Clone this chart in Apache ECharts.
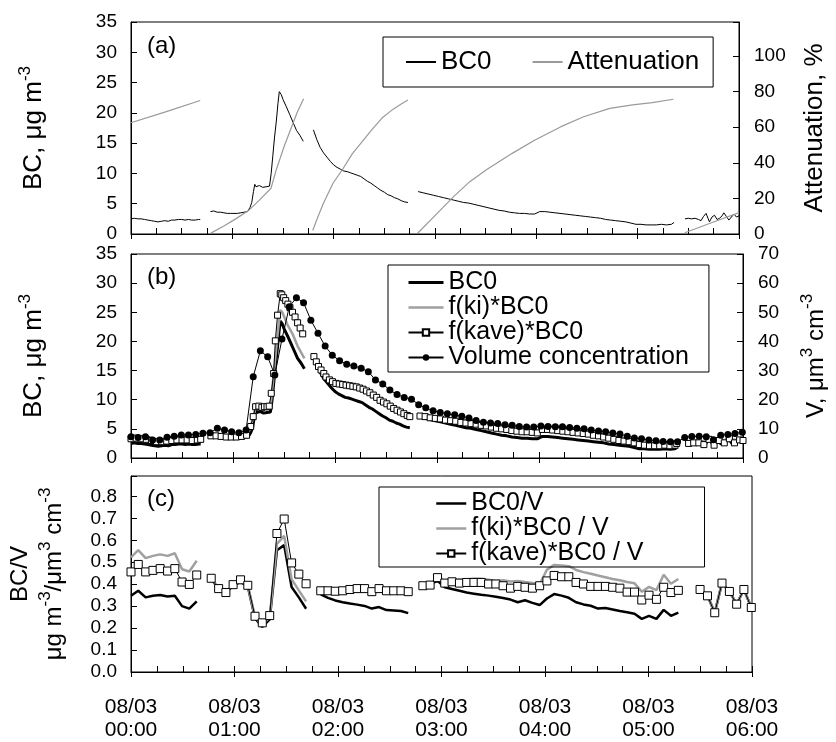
<!DOCTYPE html>
<html><head><meta charset="utf-8">
<script src="https://cdn.jsdelivr.net/npm/echarts@6/dist/echarts.min.js"></script>
<style>html,body{margin:0;padding:0;background:#fff}#c{width:836px;height:742px}</style>
</head><body><div id="c"></div>
<script>
const FONT = '"Liberation Sans", Arial, Helvetica, sans-serif';
const dateLabel = '08/03';
const hourLabels = ['00:00','01:00','02:00','03:00','04:00','05:00','06:00'];
const panelLabels = ['(a)','(b)','(c)'];

// ---- Panel (a): BC0 [minutes after 00:00, ug/m3]
const bc0 = [[0,2.5],[2,2.6],[4,2.5],[6,2.5],[8,2.4],[10,2.3],[12,2.2],[14,2.1],[16,2.0],[18,2.1],[20,2.2],[22,2.1],[24,2.3],[26,2.3],[28,2.4],[30,2.4],[32,2.3],[34,2.4],[36,2.3],[38,2.3],[40,2.4],[41,2.4],[44,null],
[47,3.7],[49,3.8],[51,3.6],[53,3.6],[55,3.5],[57,3.4],[59,3.4],[61,3.4],[63,3.4],[65,3.5],[67,3.6],[69,3.7],[70.5,4.4],[71.5,5.2],[72.5,7.0],[73.3,8.2],[74,7.8],[75,7.7],[76,8.0],[77,7.8],[78,7.7],[79,7.9],[80,7.8],[81,8.0],[82,7.9],[83,10.0],[84,13.0],[85,16.0],[86,18.5],[87,21.5],[87.8,23.5],[89,23.0],[90,22.2],[92,21.0],[94,19.7],[96,18.4],[98,17.1],[100,16.3],[102,15.3],[105,null],
[108,17.2],[110,15.6],[112,14.3],[114,13.4],[116,12.7],[118,12.0],[120,11.4],[122,11.0],[124,10.7],[126,10.4],[128,10.3],[130,10.1],[132,9.9],[134,9.7],[136,9.5],[138,9.1],[140,8.7],[142,8.4],[144,8.0],[146,7.6],[148,7.2],[150,6.9],[152,6.5],[154,6.3],[156,6.0],[158,5.8],[160,5.5],[162,5.3],[164,5.2],[166,null],
[170,7.0],[173,6.8],[176,6.6],[179,6.4],[182,6.2],[185,6.0],[188,5.8],[191,5.6],[194,5.4],[197,5.2],[200,5.1],[203,4.9],[206,4.7],[209,4.5],[212,4.3],[215,4.1],[218,3.9],[221,3.8],[224,3.6],[227,3.5],[230,3.4],[233,3.4],[236,3.3],[239,3.3],[242,3.7],[245,3.7],[248,3.6],[251,3.5],[254,3.4],[257,3.3],[260,3.2],[263,3.1],[266,3.0],[269,2.9],[272,2.8],[275,2.7],[278,2.6],[281,2.4],[284,2.3],[287,2.2],[290,2.1],[293,2.0],[296,1.8],[299,1.6],[302,1.6],[305,1.5],[308,1.5],[311,1.5],[314,1.6],[317,1.5],[320,1.6],[321.5,1.9],[325,null],
[328,2.5],[330,2.6],[332,2.5],[334,2.6],[336,2.4],[337.5,2.2],[339,2.9],[340.5,3.4],[342.5,2.0],[344,2.8],[345.5,3.1],[347,2.4],[348.5,2.6],[350,3.0],[351,3.5],[352.5,2.9],[354,2.3],[355.5,2.8],[357,3.3],[358.5,2.8],[360,3.0]];

// ---- Panel (a): Attenuation [minutes, %]
const attenuation = [[0,62.5],[20,68.5],[41,75],[44,null],
[47.3,0.5],[55,4.5],[62,8.5],[69.4,13],[76,19],[82.9,25.7],[86,36],[90.6,49],[95,60],[98.5,68.5],[102.2,76],[105,null],
[107.6,2],[110,8],[113.8,17],[119.6,28.5],[125.4,36.5],[131,45],[137,52],[143,59],[148.5,65],[155,70],[160,73],[164,75.3],[166,null],
[169.7,0.4],[181.3,11.6],[191,21],[200.6,29.4],[210.2,36],[225.7,45.3],[239.2,52.8],[254.6,60.3],[268,65.9],[283.5,70.6],[297,72.5],[308.6,73.8],[321.1,75.7],[325,null],
[327.9,0.7],[345.3,6.9],[360,12]];

// ---- Panel (b): f(ki)*BC0 and f(kave)*BC0 [minutes, ug/m3]
const kiBC0 = [[0,3.8],[4,3.8],[8,3.7],[12,3.5],[16,3.1],[20,3.3],[24,3.4],[28,3.6],[32,3.5],[36,3.5],[41,3.7],[44,null],
[47,3.8],[55,3.7],[62,3.6],[68,3.9],[70,5.0],[72,7.1],[73.3,8.6],[76,8.6],[80,8.7],[82,8.8],[83,11.5],[84,14.5],[85,17.5],[86,20.5],[87.8,25.4],[89,25.0],[92,22.9],[95,21.3],[98,19.2],[102,17.1],[105,null],
[108,17.4],[112,14.8],[116,13.6],[120,12.9],[125,12.6],[130,12.4],[135,12.0],[140,11.3],[145,10.3],[150,9.4],[155,8.5],[160,7.7],[164,7.2],[166,null],
[170,7.2],[180,6.9],[190,6.5],[200,6.3],[210,5.8],[220,5.4],[230,5.1],[239,4.7],[242,5.5],[250,5.5],[260,5.0],[270,4.5],[280,3.9],[290,3.4],[299,2.6],[305,2.5],[313,2.5],[321,2.8],[325,null],
[328,2.5],[334,2.6],[340,3.3],[346,3.0],[352,3.2],[360,3.0]];

const kaveBC0 = [[0,3.3],[3,3.4],[6,3.3],[9,3.2],[12,3.0],[15,2.8],[18,2.8],[21,2.9],[24,3.0],[27,3.1],[30,3.1],[33,3.1],[36,3.0],[39,3.1],[41,3.2],[44,null],
[47,3.8],[50,3.8],[53,3.7],[56,3.6],[59,3.6],[62,3.6],[65,3.7],[68,3.9],[70.4,5.4],[71.9,7.1],[73.3,8.8],[75.2,8.9],[77,8.7],[78.5,8.8],[80,8.8],[81.3,8.9],[82.5,11.1],[83.9,14.5],[84.9,20.1],[86.2,24.5],[87.8,28.2],[88.7,28.0],[89.8,27.5],[91,27.0],[92.3,26.4],[93.5,25.8],[95,25.0],[96.5,24.2],[98,23.2],[99.5,22.3],[101,21.3],[105,null],
[107.6,17.4],[109,16.5],[110.3,15.7],[111.8,15.1],[113.4,14.5],[114.7,13.9],[116.7,13.4],[118.5,13.1],[120.5,12.8],[122.5,12.7],[124.5,12.6],[126.5,12.5],[128.5,12.4],[130.5,12.3],[132.5,12.2],[134.5,12.0],[136.5,11.8],[138.5,11.5],[140.5,11.2],[142.5,10.8],[144.5,10.4],[146.5,9.9],[148.5,9.6],[150.5,9.3],[152.5,8.9],[154.5,8.5],[156.5,8.2],[158.5,7.9],[160.5,7.6],[162.5,7.3],[164,7.1],[166,null],
[170,7.2],[173,7.1],[176,6.9],[179,6.8],[182,6.7],[185,6.5],[188,6.4],[191,6.3],[194,6.1],[197,6.0],[200,5.9],[203,5.8],[206,5.6],[209,5.5],[212,5.3],[215,5.1],[218,5.0],[221,4.9],[224,4.7],[227,4.6],[230,4.5],[233,4.5],[236,4.4],[239,4.3],[242,4.9],[245,4.9],[248,4.8],[251,4.7],[254,4.6],[257,4.5],[260,4.4],[263,4.3],[266,4.2],[269,4.1],[272,3.9],[275,3.8],[278,3.6],[281,3.4],[284,3.2],[287,3.0],[290,2.9],[293,2.8],[296,2.6],[299,2.3],[302,2.2],[305,2.1],[308,2.1],[311,2.1],[314,2.2],[317,2.1],[320,2.2],[321,2.5],[325,null],
[328,2.5],[331,2.6],[334,2.6],[337,2.3],[340,3.2],[343,2.2],[346,3.0],[349,2.6],[352,3.3],[355,2.6],[358,3.1],[360,3.0]];

// ---- SMPS sample times [minutes] shared by panel (b) volume and panel (c) ratios
const smpsTimes = [0,4.2,8.5,12.7,16.9,21.2,25.4,29.6,33.8,38.1,42.3,46.5,50.8,55,59.2,63.5,67.7,71.9,76.1,80.4,84.6,88.8,93.1,97.3,101.5,105.8,110,114.2,118.4,122.7,126.9,131.1,135.4,139.6,143.8,148.1,152.3,156.5,160.7,165,169.2,173.4,177.7,181.9,186.1,190.4,194.6,198.8,203,207.3,211.5,215.7,220,224.2,228.4,232.7,236.9,241.1,245.3,249.6,253.8,258,262.3,266.5,270.7,275,279.2,283.4,287.6,291.9,296.1,300.3,304.6,308.8,313,317.3,321.5,325.7,329.9,334.2,338.4,342.6,346.9,351.1,355.3,359.6];

// Volume concentration [um3/cm3]
const volume = [7.3,7.0,7.3,6.2,6.2,7.1,7.5,7.9,7.9,8.1,8.5,8.7,10.2,9.6,9.0,8.7,9.6,27.9,36.8,34.7,28.5,40.8,51.9,55.0,53.3,47.3,42.8,38.4,35.3,33.4,32.2,31.6,30.8,29.6,26.8,25.4,23.3,21.8,20.8,20.2,18.3,17.2,16.2,15.6,15.2,14.8,14.3,13.7,12.9,12.3,12.0,11.8,11.4,11.2,10.8,10.6,10.6,11.0,10.8,10.7,10.7,10.5,10.2,10.0,9.6,9.3,9.0,8.6,8.2,7.5,6.9,6.6,6.2,5.9,5.7,5.6,5.6,7.0,7.4,7.5,7.3,6.3,7.8,8.1,8.4,8.8];

// ---- Panel (c) ratios
const ratioBC0 = [0.347,0.37,0.34,0.347,0.351,0.344,0.347,0.3,0.289,0.322,null,
0.425,0.378,0.36,0.395,0.41,0.39,0.245,0.205,0.24,0.555,0.578,0.387,0.34,0.288,null,
0.354,0.338,0.326,0.318,0.312,0.307,0.301,0.289,0.296,0.282,0.28,0.278,0.268,null,
0.39,0.40,0.415,0.386,0.378,0.37,0.362,0.357,0.352,0.348,0.343,0.337,0.33,0.318,0.327,0.315,0.305,0.335,0.355,0.348,0.338,0.318,0.308,0.302,0.289,0.292,0.285,0.278,0.272,0.265,0.242,0.256,0.242,0.283,0.256,0.271,null,null,
0.376,0.347,0.27,0.405,0.367,0.309,0.376,0.294];
const ratioKi = [0.522,0.555,0.519,0.529,0.536,0.529,0.541,0.468,0.458,0.507,null,
0.428,0.382,0.362,0.4,0.418,0.395,0.25,0.215,0.25,0.584,0.62,0.423,0.372,0.322,null,
0.37,0.37,0.368,0.37,0.376,0.38,0.38,0.37,0.38,0.37,0.37,0.37,0.366,null,
0.395,0.398,0.43,0.415,0.418,0.42,0.422,0.425,0.425,0.42,0.415,0.418,0.412,0.415,0.41,0.405,0.40,0.466,0.488,0.485,0.482,0.465,0.455,0.448,0.44,0.432,0.424,0.418,0.41,0.404,0.366,0.388,0.373,0.443,0.402,0.424,null,null,
0.376,0.347,0.27,0.405,0.367,0.309,0.376,0.294];
const ratioKave = [0.456,0.49,0.456,0.463,0.471,0.46,0.471,0.41,0.399,0.442,null,
0.427,0.38,0.362,0.398,0.42,0.395,0.254,0.224,0.257,0.631,0.697,0.497,0.446,0.402,null,
0.37,0.37,0.368,0.37,0.376,0.38,0.38,0.366,0.38,0.37,0.37,0.37,0.366,null,
0.393,0.396,0.43,0.405,0.411,0.405,0.408,0.408,0.408,0.401,0.401,0.393,0.382,0.39,0.386,0.382,0.393,0.415,0.44,0.434,0.434,0.408,0.401,0.39,0.39,0.39,0.386,0.382,0.364,0.364,0.328,0.35,0.331,0.386,0.362,0.372,null,null,
0.376,0.347,0.27,0.405,0.367,0.309,0.376,0.294];

const pair = (vals) => smpsTimes.map((t, i) => [t, vals[i]]);

const grids = [
  {left: 131, right: 81, top: 22, height: 212},
  {left: 131, right: 82, top: 254, height: 204},
  {left: 129, right: 84, top: 476, height: 204}
].map(g => Object.assign(g, {show: true, borderColor: '#000', borderWidth: 1, backgroundColor: 'transparent'}));

function xAxes(gi, withLabels) {
  return [{
    type: 'value', gridIndex: gi, min: 0, max: 360, interval: 60, position: 'bottom',
    axisLine: {show: true, onZero: false, lineStyle: {color: '#000', width: 1}},
    axisTick: {show: true, inside: true, length: 6, lineStyle: {color: '#000'}},
    minorTick: {show: true, splitNumber: 4, length: 6, lineStyle: {color: '#000'}},
    axisLabel: {show: false}, splitLine: {show: false}
  }, {
    type: 'value', gridIndex: gi, min: 0, max: 360, interval: 60, position: 'bottom',
    axisLine: {show: false, onZero: false},
    axisTick: {show: true, inside: false, length: 5, lineStyle: {color: '#000'}},
    axisLabel: {show: withLabels, margin: 23, color: '#000', fontSize: 21, lineHeight: 23.5, fontFamily: FONT,
      formatter: v => dateLabel + '\n' + hourLabels[Math.round(v / 60)]},
    splitLine: {show: false}
  }];
}

const sup = {fontSize: 17, fontFamily: FONT, color: '#000', verticalAlign: 'top', lineHeight: 16};
function yAxis(gi, pos, min, max, interval, fmt, name, nameGap, nameStyle) {
  return {
    type: 'value', gridIndex: gi, position: pos, min: min, max: max, interval: interval,
    axisLine: {show: true, onZero: false, lineStyle: {color: '#000', width: 1}},
    axisTick: {show: true, inside: true, length: 6, lineStyle: {color: '#000'}},
    axisLabel: {color: '#000', fontSize: 19, fontFamily: FONT, margin: pos === 'left' ? 14 : 15, formatter: fmt},
    splitLine: {show: false},
    name: name, nameLocation: 'middle', nameRotate: 90, nameGap: nameGap,
    nameTextStyle: nameStyle
  };
}
const titleStyle = (fs, lh) => ({fontFamily: FONT, color: '#000', fontSize: fs, rich: {
  t: {fontSize: fs, fontFamily: FONT, color: '#000', lineHeight: lh},
  s: sup
}});
const noSym = {opacity: 0};

const option = {
  animation: false,
  backgroundColor: '#fff',
  textStyle: {fontFamily: FONT},
  grid: grids,
  xAxis: [].concat(xAxes(0, false), xAxes(1, false), xAxes(2, true)),
  yAxis: [
    yAxis(0, 'left', 0, 35, 5, v => String(v), '{t|BC, μg m}{s|-3}', 80, titleStyle(26, 34)),
    yAxis(0, 'right', 0, 119.1, 20, v => (v % 20 === 0 && v <= 100) ? String(v) : '', 'Attenuation, %', 63, {fontFamily: FONT, color: '#000', fontSize: 26}),
    yAxis(1, 'left', 0, 35, 5, v => String(v), '{t|BC, μg m}{s|-3}', 80, titleStyle(26, 34)),
    yAxis(1, 'right', 0, 70, 10, v => String(v), '{t|V, μm}{s|3}{t| cm}{s|-3}', 56, titleStyle(24, 34)),
    yAxis(2, 'left', 0, 0.893, 0.1, v => v > 0.85 ? '' : v.toFixed(1), '{t|BC/V}\n{t|μg m}{s|-3}{t|/μm}{s|3}{t| cm}{s|-3}', 60, titleStyle(24, 34))
  ],
  legend: [
    {data: [{name: 'BC0#a', itemStyle: noSym}, {name: 'Attenuation', itemStyle: noSym}], left: 383, top: 37, orient: 'horizontal', itemWidth: 30, itemHeight: 10, itemGap: 40,
     padding: [12, 14, 12, 22], borderColor: '#000', borderWidth: 1, selectedMode: false,
     formatter: n => n.split('#')[0], textStyle: {fontSize: 26, fontFamily: FONT, color: '#000'}},
    {data: [{name: 'BC0#b', itemStyle: noSym, lineStyle: {width: 3}}, {name: 'f(ki)*BC0', itemStyle: noSym, lineStyle: {width: 2.5}}, 'f(kave)*BC0', 'Volume concentration'],
     left: 388, top: 265, orient: 'vertical',
     itemWidth: 35, itemHeight: 8, itemGap: 0, padding: [5, 20, 2, 19], borderColor: '#000', borderWidth: 1, selectedMode: false,
     formatter: n => n.split('#')[0], textStyle: {fontSize: 25, lineHeight: 24.5, fontFamily: FONT, color: '#000'}},
    {data: [{name: 'BC0/V', itemStyle: noSym, lineStyle: {width: 2.5}}, {name: 'f(ki)*BC0 / V', itemStyle: noSym, lineStyle: {width: 2.5}}, 'f(kave)*BC0 / V'],
     left: 379, top: 487, orient: 'vertical',
     itemWidth: 30, itemHeight: 8, itemGap: 0, padding: [4, 61, 1, 56], borderColor: '#000', borderWidth: 1, selectedMode: false,
     textStyle: {fontSize: 25, lineHeight: 24, fontFamily: FONT, color: '#000'}}
  ],
  graphic: panelLabels.map((t, i) => ({type: 'text', left: 147, top: [34, 265, 487][i],
    style: {text: t, fontSize: 24, fontFamily: FONT, fill: '#000'}})),
  series: [
    {name: 'BC0#a', type: 'line', xAxisIndex: 0, yAxisIndex: 0, data: bc0, symbol: 'none', color: '#000',
     lineStyle: {color: '#000', width: 1}},
    {name: 'Attenuation', type: 'line', xAxisIndex: 0, yAxisIndex: 1, data: attenuation, symbol: 'none', color: '#9a9a9a',
     lineStyle: {color: '#9a9a9a', width: 1.2}},
    {name: 'BC0#b', type: 'line', xAxisIndex: 2, yAxisIndex: 2, data: bc0, symbol: 'none', color: '#000',
     lineStyle: {color: '#000', width: 3}},
    {name: 'f(ki)*BC0', type: 'line', xAxisIndex: 2, yAxisIndex: 2, data: kiBC0, symbol: 'none', color: '#a0a0a0',
     lineStyle: {color: '#a0a0a0', width: 2.5}},
    {name: 'f(kave)*BC0', type: 'line', xAxisIndex: 2, yAxisIndex: 2, data: kaveBC0, symbol: 'rect', symbolSize: 6, color: '#000',
     itemStyle: {color: '#fff', borderColor: '#000', borderWidth: 1}, lineStyle: {color: '#000', width: 1}},
    {name: 'Volume concentration', type: 'line', xAxisIndex: 2, yAxisIndex: 3, data: pair(volume), symbol: 'circle', symbolSize: 7, color: '#000',
     itemStyle: {color: '#000'}, lineStyle: {color: '#000', width: 1}},
    {name: 'BC0/V', type: 'line', xAxisIndex: 4, yAxisIndex: 4, data: pair(ratioBC0), symbol: 'none', color: '#000',
     lineStyle: {color: '#000', width: 2.5}},
    {name: 'f(ki)*BC0 / V', type: 'line', xAxisIndex: 4, yAxisIndex: 4, data: pair(ratioKi), symbol: 'none', color: '#a0a0a0',
     lineStyle: {color: '#a0a0a0', width: 2.5}},
    {name: 'f(kave)*BC0 / V', type: 'line', xAxisIndex: 4, yAxisIndex: 4, data: pair(ratioKave), symbol: 'rect', symbolSize: 8, color: '#000',
     itemStyle: {color: '#fff', borderColor: '#000', borderWidth: 1}, lineStyle: {color: '#000', width: 1}}
  ]
};
const chart = echarts.init(document.getElementById('c'), null, {renderer: 'canvas'});
chart.setOption(option);
</script></body></html>
